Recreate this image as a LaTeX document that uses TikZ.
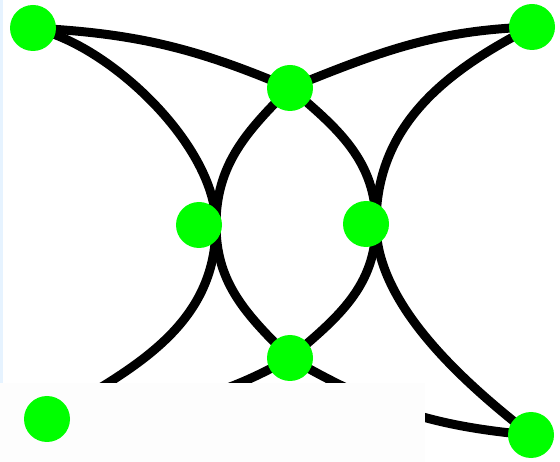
\documentclass[tikz,border=0pt]{standalone}
\usetikzlibrary{positioning}
\definecolor{dotgreen}{RGB}{0,255,0}
\definecolor{stripblue}{RGB}{230,243,255}
\definecolor{coverwhite}{RGB}{253,253,253}
\pgfdeclarelayer{edges}
\pgfdeclarelayer{cover}
\pgfsetlayers{edges,cover,main}

\begin{document}
\begin{tikzpicture}[x=1pt, y=1pt,
    dot/.style={circle, fill=dotgreen, inner sep=0pt, minimum size=46pt},
    arc/.style={line width=9pt, draw=black},
  ]
  \useasboundingbox (0,0) rectangle (560,-462);

  % ---- Vertices ----
  \node[dot] (tl) at (33,-28) {};
  \node[dot] (tr) at (532,-27) {};
  \node[dot] (t) at (290,-88) {};
  \node[dot] (l) at (199,-225) {};
  \node[dot] (r) at (366,-224) {};
  \node[dot] (b) at (290,-358) {};
  \node[dot] (bl) at (47,-419) {};
  \node[dot] (br) at (531,-435) {};

  % ---- Points where two arcs touch ----
  \coordinate (lk) at (216,-225);
  \coordinate (rk) at (376,-224);

  % ---- Arcs ----
  \begin{pgfonlayer}{edges}
    \fill[stripblue] (0,0) rectangle (3,-383);
    \draw[arc] (tl.center) to[out=-3, in=157] (t.center);
    \draw[arc] (t.center) to[out=22, in=182] (tr.center);
    \draw[arc] (tl.center) to[out=-12, in=90, looseness=0.75] (lk) to[out=-90, in=30] (bl.center);
    \draw[arc] (t.center) to[out=225, in=90] (lk) to[out=-90, in=135] (b.center);
    \draw[arc] (tr.center) to[out=207, in=90] (rk) to[out=-90, in=142, looseness=0.8] (br.center);
    \draw[arc] (t.center) to[out=-40, in=90] (rk) to[out=-90, in=40] (b.center);
    \draw[arc] (b.center) to[out=-30, in=175] (br.center);
    \draw[arc] (b.center) to[out=210, in=5] (bl.center);
  \end{pgfonlayer}

  % ---- Blank band at the bottom ----
  \begin{pgfonlayer}{cover}
    \fill[coverwhite] (0,-383) rectangle (425,-462);
  \end{pgfonlayer}
\end{tikzpicture}
\end{document}
